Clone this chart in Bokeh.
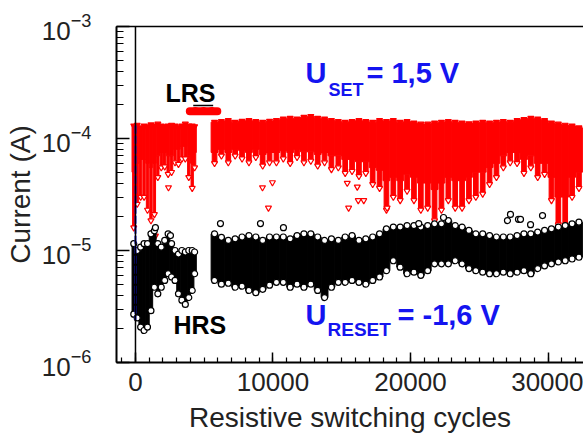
from bokeh.plotting import figure
from bokeh.models import (ColumnDataSource, Range1d, LogTicker, SingleIntervalTicker,
                          LinearAxis, Span, Label, LogTickFormatter, CustomJSTickFormatter)
from bokeh.embed import file_html
from bokeh.resources import INLINE

FONT = "Liberation Sans"
RED = "#ff0000"
BLUE = "#1414f0"
TXT = "#222222"

# ---------------- data ----------------
# LRS (red), first block of cycles, bins of 250 cycles
lrs_left_x = [-125, 125, 375, 625, 875, 1125, 1375, 1625, 1875, 2125, 2375, 2625,
              2875, 3125, 3375, 3625, 3875, 4125, 4300]
lrs_left_hi = [1.30e-4, 1.32e-4, 1.25e-4, 1.30e-4, 1.28e-4, 1.33e-4, 1.30e-4, 1.35e-4,
               1.30e-4, 1.28e-4, 1.30e-4, 1.32e-4, 1.30e-4, 1.27e-4, 1.30e-4, 1.35e-4,
               1.30e-4, 1.30e-4, 1.28e-4]
lrs_left_core = [5.0e-5, 6.0e-5, 6.5e-5, 6.5e-5, 6.0e-5, 5.5e-5, 6.0e-5, 7.0e-5, 7.5e-5,
                 7.5e-5, 7.0e-5, 7.0e-5, 8.0e-5, 8.0e-5, 8.5e-5, 8.5e-5, 7.0e-5, 6.0e-5,
                 7.5e-5]
lrs_left_lo = [1.6e-5, 2.6e-5, 3.0e-5, 3.0e-5, 2.3e-5, 1.85e-5, 2.1e-5, 4.5e-5, 5.5e-5,
               5.6e-5, 4.8e-5, 5.0e-5, 6.1e-5, 5.9e-5, 6.6e-5, 6.6e-5, 4.5e-5, 3.6e-5,
               5.5e-5]

# LRS (red), main block of cycles, bins of 500 cycles
right_x = [5750, 6250, 6750, 7250, 7750, 8250, 8750, 9250, 9750,
           10250, 10750, 11250, 11750, 12250, 12750, 13250, 13750, 14250, 14750,
           15250, 15750, 16250, 16750, 17250, 17750, 18250, 18750, 19250, 19750,
           20250, 20750, 21250, 21750, 22250, 22750, 23250, 23750, 24250, 24750,
           25250, 25750, 26250, 26750, 27250, 27750, 28250, 28750, 29250, 29750,
           30250, 30750, 31250, 31750, 32250]
lrs_right_hi = [1.40e-4, 1.42e-4, 1.45e-4, 1.40e-4, 1.43e-4, 1.45e-4, 1.42e-4, 1.40e-4, 1.43e-4,
                1.45e-4, 1.50e-4, 1.52e-4, 1.50e-4, 1.55e-4, 1.58e-4, 1.52e-4, 1.50e-4, 1.45e-4, 1.42e-4,
                1.40e-4, 1.42e-4, 1.45e-4, 1.42e-4, 1.40e-4, 1.45e-4, 1.42e-4, 1.45e-4, 1.40e-4, 1.42e-4,
                1.38e-4, 1.35e-4, 1.35e-4, 1.38e-4, 1.40e-4, 1.42e-4, 1.40e-4, 1.38e-4, 1.36e-4, 1.38e-4,
                1.40e-4, 1.38e-4, 1.40e-4, 1.42e-4, 1.40e-4, 1.45e-4, 1.48e-4, 1.52e-4, 1.50e-4, 1.45e-4,
                1.38e-4, 1.35e-4, 1.32e-4, 1.30e-4, 1.25e-4]
lrs_right_core = [7.5e-5, 8.0e-5, 7.5e-5, 8.0e-5, 7.8e-5, 7.5e-5, 8.0e-5, 7.2e-5, 7.5e-5,
                  7.5e-5, 7.8e-5, 7.5e-5, 8.0e-5, 7.6e-5, 7.6e-5, 7.2e-5, 7.5e-5, 7.0e-5, 7.0e-5,
                  6.5e-5, 6.5e-5, 6.2e-5, 6.2e-5, 5.5e-5, 5.2e-5, 4.2e-5, 4.5e-5, 4.2e-5, 4.8e-5,
                  4.5e-5, 4.0e-5, 4.0e-5, 3.5e-5, 4.0e-5, 4.5e-5, 4.2e-5, 4.2e-5, 4.5e-5, 5.0e-5,
                  5.0e-5, 5.5e-5, 6.0e-5, 7.0e-5, 7.5e-5, 7.5e-5, 6.5e-5, 7.0e-5, 6.0e-5, 6.0e-5,
                  4.5e-5, 3.0e-5, 3.0e-5, 4.5e-5, 5.0e-5]
lrs_right_lo = [6.0e-5, 7.0e-5, 6.1e-5, 7.0e-5, 6.6e-5, 6.1e-5, 6.8e-5, 5.7e-5, 6.1e-5,
                6.1e-5, 6.6e-5, 6.0e-5, 6.8e-5, 6.1e-5, 6.3e-5, 5.7e-5, 6.1e-5, 5.3e-5, 5.5e-5,
                4.9e-5, 5.1e-5, 4.6e-5, 4.9e-5, 3.9e-5, 3.6e-5, 2.3e-5, 3.0e-5, 2.8e-5, 3.4e-5,
                2.8e-5, 2.3e-5, 2.4e-5, 1.85e-5, 2.3e-5, 2.8e-5, 2.4e-5, 2.4e-5, 2.8e-5, 3.0e-5,
                3.2e-5, 3.9e-5, 4.5e-5, 5.5e-5, 6.1e-5, 6.0e-5, 4.9e-5, 5.5e-5, 4.5e-5, 4.8e-5,
                2.8e-5, 1.7e-5, 1.6e-5, 3.0e-5, 3.6e-5]

# isolated LRS points
lrs_out_x = [1300, 1450, 2400, 9236, 9670, 9960, 15400, 15500, 16130, 16200, 16600, 18300]
lrs_out_y = [1.45e-5, 1.35e-5, 3.65e-5, 3.65e-5, 2.4e-5, 4.05e-5, 4.0e-5, 2.4e-5, 3.7e-5,
             2.8e-5, 2.8e-5, 2.4e-5]

# LRS plateau between the two blocks
lrs_plateau_x = [3950, 4150, 4350, 4550, 4750, 4950, 5150, 5350, 5550, 5750, 5950]
lrs_plateau_y = [1.75e-4, 1.75e-4, 1.76e-4, 1.75e-4, 1.75e-4, 1.76e-4, 1.75e-4, 1.75e-4,
                 1.76e-4, 1.75e-4, 1.75e-4]
mark_x = [4200, 5650]
mark_y = [1.97e-4, 1.97e-4]

# HRS (black)
hrs_left_hi = [1.15e-5, 1.0e-5, 1.07e-5, 1.15e-5, 1.15e-5, 1.41e-5, 1.5e-5, 1.15e-5, 1.07e-5,
               1.23e-5, 1.41e-5, 1.15e-5, 1.0e-5, 9.3e-6, 1.0e-5, 9.7e-6, 1.0e-5, 1.0e-5, 9.7e-6]
hrs_left_lo = [2.7e-6, 2.5e-6, 2.07e-6, 1.93e-6, 2.07e-6, 2.9e-6, 4.7e-6, 4.1e-6, 4.7e-6,
               5.4e-6, 6.2e-6, 5.8e-6, 5.4e-6, 4.1e-6, 3.6e-6, 3.3e-6, 3.8e-6, 4.4e-6, 6.2e-6]
hrs_right_hi = [1.41e-5, 1.31e-5, 1.23e-5, 1.27e-5, 1.32e-5, 1.36e-5, 1.32e-5, 1.23e-5, 1.32e-5,
                1.32e-5, 1.32e-5, 1.27e-5, 1.36e-5, 1.41e-5, 1.41e-5, 1.32e-5, 1.23e-5, 1.27e-5, 1.23e-5,
                1.32e-5, 1.36e-5, 1.23e-5, 1.27e-5, 1.32e-5, 1.41e-5, 1.56e-5, 1.62e-5, 1.62e-5, 1.67e-5,
                1.67e-5, 1.62e-5, 1.67e-5, 1.73e-5, 1.73e-5, 1.85e-5, 1.67e-5, 1.62e-5, 1.51e-5, 1.41e-5,
                1.41e-5, 1.36e-5, 1.32e-5, 1.32e-5, 1.32e-5, 1.36e-5, 1.41e-5, 1.41e-5, 1.46e-5, 1.51e-5,
                1.56e-5, 1.62e-5, 1.67e-5, 1.73e-5, 1.79e-5]
hrs_right_lo = [5.4e-6, 5.0e-6, 5.1e-6, 4.7e-6, 4.8e-6, 4.4e-6, 4.2e-6, 4.5e-6, 4.9e-6,
                5.2e-6, 5.2e-6, 4.7e-6, 5.0e-6, 4.7e-6, 5.0e-6, 4.4e-6, 3.8e-6, 4.7e-6, 5.2e-6,
                5.2e-6, 5.4e-6, 5.2e-6, 5.0e-6, 5.4e-6, 5.8e-6, 6.6e-6, 8.1e-6, 7.1e-6, 6.2e-6,
                6.4e-6, 6.0e-6, 6.6e-6, 7.6e-6, 7.6e-6, 7.6e-6, 8.1e-6, 7.6e-6, 6.9e-6, 6.6e-6,
                6.4e-6, 6.2e-6, 6.2e-6, 6.4e-6, 6.2e-6, 6.4e-6, 6.6e-6, 6.2e-6, 6.9e-6, 7.3e-6,
                7.6e-6, 7.9e-6, 8.1e-6, 8.4e-6, 8.7e-6]
hrs_out_x = [1450, 2545, 6180, 9090, 10760, 20600, 22400, 27050, 27270, 27850, 28000, 28730, 29600]
hrs_out_y = [1.6e-5, 1.36e-5, 1.74e-5, 1.74e-5, 1.6e-5, 1.74e-5, 1.97e-5, 1.85e-5, 2.1e-5,
             1.9e-5, 1.9e-5, 1.7e-5, 2.05e-5]

# first cycles (blue)
blue_x = [0, 0]
blue_y = [1.3e-4, 2.4e-6]

# ---------------- figure ----------------
p = figure(width=583, height=438, y_axis_type="log",
           x_range=Range1d(-1380, 32580), y_range=Range1d(1e-6, 1e-3),
           output_backend="svg", toolbar_location=None,
           min_border_left=116, min_border_right=0, min_border_top=26, min_border_bottom=76)
p.outline_line_color = None
p.grid.visible = False
p.background_fill_color = "white"
p.border_fill_color = "white"

ax = p.xaxis[0]
ax.ticker = SingleIntervalTicker(interval=10000, num_minor_ticks=10)
ax.axis_line_width = 2
ax.major_tick_in = 10
ax.major_tick_out = 0
ax.minor_tick_in = 5
ax.minor_tick_out = 0
ax.major_tick_line_width = 1.5
ax.minor_tick_line_width = 1.2
ax.major_label_text_font = FONT
ax.major_label_text_font_size = "26px"
ax.major_label_text_color = TXT
ax.major_label_standoff = 10
ax.axis_label = "Resistive switching cycles"
ax.axis_label_text_font = FONT
ax.axis_label_text_font_size = "28px"
ax.axis_label_text_font_style = "normal"
ax.axis_label_text_color = TXT
ax.axis_label_standoff = 8

ay = p.yaxis[0]
ay.ticker = LogTicker(num_minor_ticks=10)
ay.formatter = LogTickFormatter()
ay.axis_line_width = 2
ay.major_tick_in = 13
ay.major_tick_out = 0
ay.minor_tick_in = 7
ay.minor_tick_out = 0
ay.major_tick_line_width = 1.5
ay.minor_tick_line_width = 1.2
ay.major_label_text_font = FONT
ay.major_label_text_font_size = "26px"
ay.major_label_text_color = TXT
ay.major_label_standoff = 25
ay.axis_label = "Current (A)"
ay.axis_label_text_font = FONT
ay.axis_label_text_font_size = "28px"
ay.axis_label_text_font_style = "normal"
ay.axis_label_text_color = TXT
ay.axis_label_standoff = 3

top = LinearAxis(axis_line_width=1.5, major_tick_line_color=None, minor_tick_line_color=None,
                 formatter=CustomJSTickFormatter(code="return ''"),
                 major_label_text_font_size="0px")
p.add_layout(top, "above")

p.add_layout(Span(location=0, dimension="height", line_color="black", line_width=1.5))

# ---------------- LRS ----------------
lrs_x = lrs_left_x + right_x
lrs_w = [250] * len(lrs_left_x) + [500] * len(right_x)
lrs_sw = [170] * len(lrs_left_x) + [340] * len(right_x)
lrs = ColumnDataSource(dict(x=lrs_x, w=lrs_w, sw=lrs_sw,
                            hi=lrs_left_hi + lrs_right_hi,
                            core=lrs_left_core + lrs_right_core,
                            lo=lrs_left_lo + lrs_right_lo))
p.vbar(x="x", width="sw", bottom="lo", top="core", source=lrs, fill_color=RED, line_color=RED, line_width=1)
p.vbar(x="x", width="w", bottom="core", top="hi", source=lrs, fill_color=RED, line_color=RED, line_width=1)
p.scatter(x="x", y="lo", source=lrs, marker="inverted_triangle", size=6,
          line_color=RED, fill_color="white", line_width=1.2)
p.scatter(x="x", y="hi", source=lrs, marker="inverted_triangle", size=6,
          line_color=RED, fill_color=RED, line_width=1.2)
p.scatter(x=lrs_out_x, y=lrs_out_y, marker="inverted_triangle", size=6,
          line_color=RED, fill_color="white", line_width=1.2)
p.line(x=lrs_plateau_x, y=lrs_plateau_y, line_color=RED, line_width=8, line_cap="round")
p.line(x=mark_x, y=mark_y, line_color="black", line_width=1.5)

# ---------------- HRS ----------------
hrs = ColumnDataSource(dict(x=lrs_left_x + right_x, w=lrs_w,
                            hi=hrs_left_hi + hrs_right_hi,
                            lo=hrs_left_lo + hrs_right_lo))
p.vbar(x="x", width="w", bottom="lo", top="hi", source=hrs, fill_color="black", line_color="black", line_width=1)
p.scatter(x="x", y="lo", source=hrs, marker="circle", size=6,
          line_color="black", fill_color="white", line_width=1.2)
p.scatter(x="x", y="hi", source=hrs, marker="circle", size=6,
          line_color="black", fill_color="white", line_width=1.2)
p.scatter(x=hrs_out_x, y=hrs_out_y, marker="circle", size=6,
          line_color="black", fill_color="white", line_width=1.2)

# first cycles
p.line(x=blue_x, y=blue_y, line_color=BLUE, line_width=2, line_dash="8 2")

# ---------------- texts ----------------
def lab(x, y, text, size, color="black", dy=8):
    p.add_layout(Label(x=x, y=y, text=text, text_font=FONT, text_font_size=size,
                       text_font_style="bold", text_color=color, y_offset=dy,
                       text_align="left", text_baseline="alphabetic"))

lab(2182, 2.18e-4, "LRS", "25px")
lab(2764, 1.82e-6, "HRS", "25px")
lab(12360, 3.1e-4, "U", "29px", BLUE, 10)
lab(14036, 2.32e-4, "SET", "18px", BLUE, 8)
lab(16800, 3.1e-4, "= 1,5 V", "29px", BLUE, 10)
lab(12360, 2.14e-6, "U", "29px", BLUE, 10)
lab(13964, 1.67e-6, "RESET", "19px", BLUE, 8)
lab(19055, 2.14e-6, "= -1,6 V", "29px", BLUE, 10)

open("out.html", "w").write(file_html(p, INLINE))
